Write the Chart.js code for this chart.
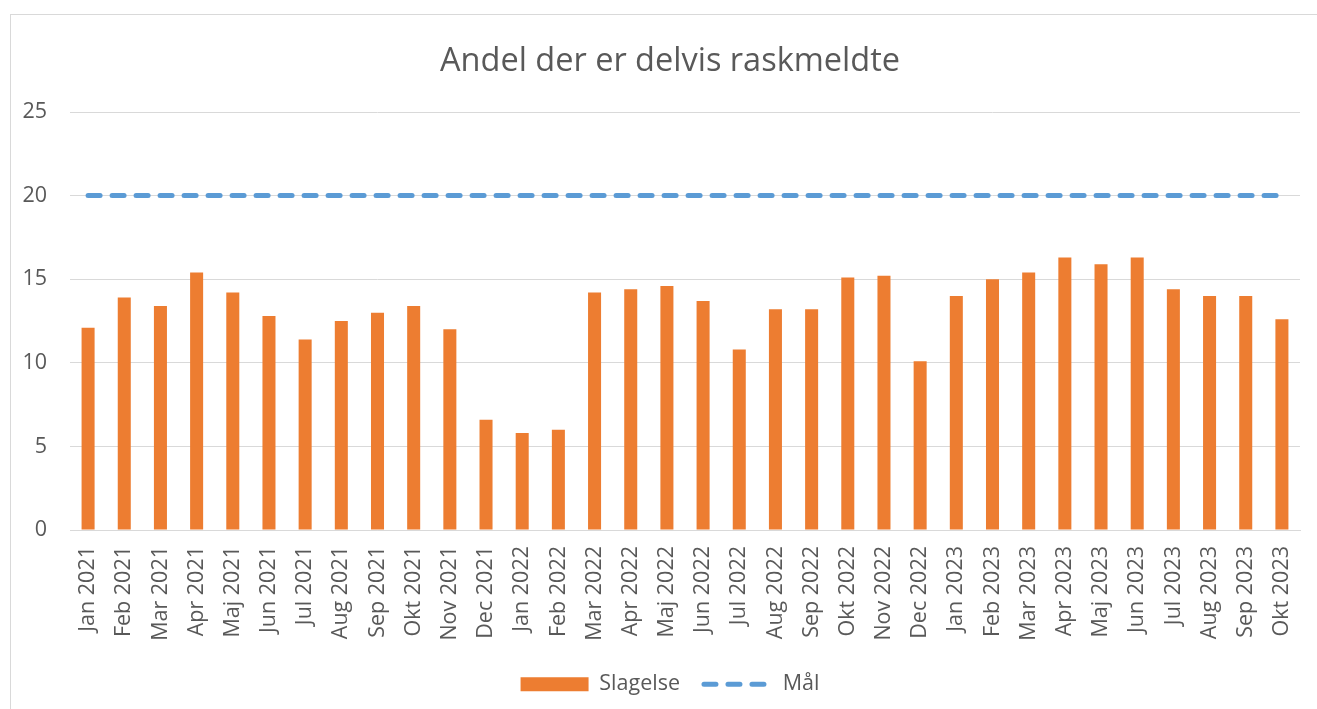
<!DOCTYPE html>
<html>
<head>
<meta charset="utf-8">
<script src="https://cdn.jsdelivr.net/npm/chart.js@4.4.0/dist/chart.umd.min.js"></script>
<style>
    html, body { margin: 0; padding: 0; background: #fff; }
    #wrap { position: relative; width: 1317px; height: 709px; overflow: hidden; }
    #frame { position: absolute; left: 10px; top: 14px; width: 1320px; height: 710px; border: 1px solid #d9d9d9; box-sizing: border-box; }
    #box { position: absolute; left: 0; top: 0; width: 1317px; height: 709px; }
</style>
</head>
<body>
<div id="wrap">
    <div id="frame"></div>
    <div id="box"><canvas id="chart"></canvas></div>
</div>
<script>
// 데이터
const months = ['Jan 2021', 'Feb 2021', 'Mar 2021', 'Apr 2021', 'Maj 2021', 'Jun 2021', 'Jul 2021', 'Aug 2021',
    'Sep 2021', 'Okt 2021', 'Nov 2021', 'Dec 2021', 'Jan 2022', 'Feb 2022', 'Mar 2022', 'Apr 2022', 'Maj 2022',
    'Jun 2022', 'Jul 2022', 'Aug 2022', 'Sep 2022', 'Okt 2022', 'Nov 2022', 'Dec 2022', 'Jan 2023', 'Feb 2023',
    'Mar 2023', 'Apr 2023', 'Maj 2023', 'Jun 2023', 'Jul 2023', 'Aug 2023', 'Sep 2023', 'Okt 2023'];

const slagelse = [12.1, 13.9, 13.4, 15.4, 14.2, 12.8, 11.4, 12.5, 13.0, 13.4, 12.0, 6.6, 5.8, 6.0, 14.2, 14.4, 14.6,
    13.7, 10.8, 13.2, 13.2, 15.1, 15.2, 10.1, 14.0, 15.0, 15.4, 16.3, 15.9, 16.3, 14.4, 14.0, 14.0, 12.6];

const maal = [20, 20, 20, 20, 20, 20, 20, 20, 20, 20, 20, 20, 20, 20, 20, 20, 20,
    20, 20, 20, 20, 20, 20, 20, 20, 20, 20, 20, 20, 20, 20, 20, 20, 20];

const yTicks = [0, 5, 10, 15, 20, 25];

const textColor = '#595959';
const gridColor = '#d9d9d9';
const fontName = "'Open Sans', sans-serif";
const fontSize = 21.5;
const padBottom = 4;

const ctx = document.getElementById('chart');
new Chart(ctx, {
    data: {
        labels: months,
        datasets: [{
            type: 'bar',
            label: 'Slagelse',
            data: slagelse,
            backgroundColor: '#ED7D31',
            borderWidth: 0,
            categoryPercentage: 1,
            barPercentage: 0.36
        }, {
            type: 'line',
            label: 'Mål',
            data: maal,
            borderColor: '#5B9BD5',
            borderWidth: 5,
            borderDash: [12, 12],
            borderCapStyle: 'round',
            pointRadius: 0,
            fill: false
        }]
    },
    options: {
        responsive: true,
        maintainAspectRatio: false,
        animation: false,
        layout: { padding: { left: 23, right: 0, top: 0, bottom: padBottom } },
        plugins: {
            tooltip: { enabled: false },
            title: {
                display: true,
                text: 'Andel der er delvis raskmeldte',
                color: textColor,
                font: { family: fontName, size: 32.5, weight: 'normal', lineHeight: 1.2 },
                padding: { top: 42, bottom: 31 }
            },
            legend: {
                position: 'bottom',
                labels: {
                    color: textColor,
                    font: { family: fontName, size: fontSize },
                    usePointStyle: true,
                    pointStyleWidth: 68,
                    boxHeight: 14,
                    padding: 24,
                    generateLabels: function (chart) {
                        const items = Chart.defaults.plugins.legend.labels.generateLabels(chart);
                        items.forEach(function (item) {
                            if (item.datasetIndex === 0) {
                                item.pointStyle = 'rect';
                                item.lineWidth = 0;
                                item.strokeStyle = 'rgba(0,0,0,0)';
                            } else {
                                item.pointStyle = 'line';
                                item.lineWidth = 5;
                                item.lineCap = 'round';
                                item.lineDash = [12, 12];
                            }
                        });
                        return items;
                    }
                }
            }
        },
        scales: {
            x: {
                offset: true,
                grid: { display: false },
                border: { display: true, color: gridColor, width: 1 },
                ticks: {
                    color: textColor,
                    font: { family: fontName, size: fontSize },
                    maxRotation: 90,
                    minRotation: 90,
                    padding: 8,
                    autoSkip: false
                },
                afterFit: function (scale) {
                    // 차트 영역 아래쪽을 530px에 맞춤
                    const lg = scale.chart.legend ? scale.chart.legend.height : 0;
                    scale.height = scale.chart.height - 530 - lg - padBottom;
                }
            },
            y: {
                min: 0,
                max: 25,
                afterBuildTicks: function (scale) {
                    scale.ticks = yTicks.map(v => ({ value: v }));
                },
                grid: { color: gridColor, lineWidth: 1, drawTicks: false },
                border: { display: false },
                ticks: {
                    color: textColor,
                    font: { family: fontName, size: fontSize },
                    padding: 23
                },
                afterFit: function (scale) {
                    scale.width = 47;
                }
            },
            // 오른쪽 여백용 빈 축
            yRight: {
                position: 'right',
                grid: { display: false },
                border: { display: false },
                ticks: { display: false },
                afterFit: function (scale) {
                    scale.width = 17;
                }
            }
        }
    }
});
</script>
</body>
</html>
